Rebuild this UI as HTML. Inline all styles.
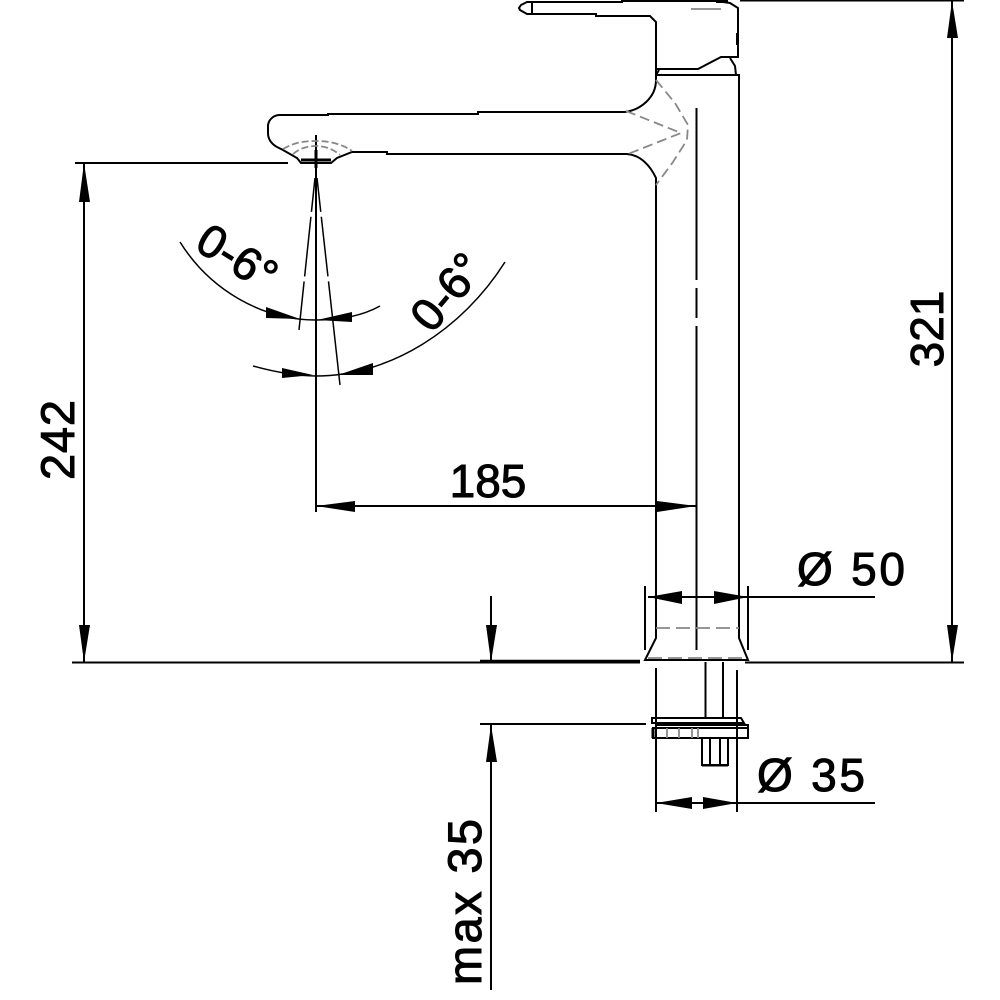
<!DOCTYPE html>
<html><head><meta charset="utf-8"><style>
html,body{margin:0;padding:0;background:#fff}
svg{display:block}
text{font-family:"Liberation Sans",sans-serif;fill:#000;stroke:#000;stroke-width:1}
</style></head><body>
<svg width="1000" height="1000" viewBox="0 0 1000 1000" xmlns="http://www.w3.org/2000/svg">
<g fill="none" stroke="#000" stroke-width="2">
<!-- handle -->
<path d="M527 2H622V1H716L730 3L738 8V57H721L698 69H656V22L650 16H596V14H527L520 10L519 8L521 5Z"/>
<path d="M532 2V14"/>
<path d="M716 1.5H728" stroke-width="3"/>
<path d="M737.500 33V45" stroke-width="3"/>
<path d="M656 69V75L659 70M730 58L735 66L736 75"/>
<!-- body -->
<path d="M656 75H739V638L748 660H645L656 638V178C650 165 640 155 627 154H387V152H352L337 158L331 163H301L297 158L283 150L277 147C270 143 268 138 268 133V125C269 119 274 115 280 115H328V114H478V112H625C640 110 656 98 656 80"/>
<path d="M656 75V80"/>
<path d="M301 160H331" stroke-width="3"/>
<!-- lower -->
<path d="M656 668V812M737 670V812M705.500 662V718M723 662V718"/>
<path d="M652 718H741L744 723H652Z"/>
<path d="M656 725H748V728H656Z"/>
<path d="M653 728H748V738H653Z"/>
<path d="M653 728V738" stroke-width="3"/>
<path d="M702 738V765H728V738M720 738V765M710 738V765M702 765.500H728"/>
<!-- center and dims -->
<path d="M316 135V512"/>
<path d="M316 150V168" stroke-width="3"/>
<path d="M696.500 108V280M696.500 288V318M696.500 326V650"/>
<path d="M72 662.500H640M745 662.500H964"/>
<path d="M480 661H640" stroke-width="2.500"/>
<path d="M75 163H288"/>
<path d="M740 .5H964"/>
<path d="M84 163V662M952 1V662"/>
<path d="M316 506H696"/>
<path d="M645 586V650M748 586V650M648 597H875"/>
<path d="M491 596V662M491 725V990M480 724H646"/>
<path d="M656 803H875"/>
</g>
<g fill="none" stroke="#000" stroke-width="1.500">
<path d="M180 242C210 290 262 320 316 320C340 320 362 316 380 306"/>
<path d="M253 366C275 372 295 376 316 376C390 376 462 330 505 262"/>
<path d="M315 178L299 330" stroke-dasharray="34 5 60 5 60 5"/>
<path d="M317 178L340 385" stroke-dasharray="34 5 60 5 110 5"/>
</g>
<!-- gray dashed -->
<g fill="none" stroke="#888" stroke-width="1.800">
<path d="M656 80L675 103L688 125L687 140L673 162L656 185" stroke-dasharray="10 5"/>
<path d="M626 111L681 133L628 154" stroke-dasharray="10 5"/>
<path d="M691 9H724" stroke-dasharray="30 6"/>
<path d="M656 628H739" stroke-dasharray="14 6"/>
<path d="M648 658H747" stroke-dasharray="14 6"/>
<path d="M283 149C295 142 305 141 316 141C330 141 342 144 352 151" stroke-dasharray="7 3"/>
<path d="M293 154C300 148 308 146 316 146C325 146 333 149 340 155" stroke-dasharray="7 3"/>
<path d="M667 728V738M679 728V738M692 728V738M698 728V738"/>
</g>
<!-- arrowheads -->
<g fill="#000" stroke="none">
<path d="M84 163L79 202H90ZM84 662L79 625H90Z"/>
<path d="M952 1L947 38H958ZM952 662L947 625H958Z"/>
<path d="M316 506L355 501V512ZM696 506L657 501V512Z"/>
<path d="M491 662L486 625H497ZM491 725L486 762H497Z"/>
<path d="M648 597L682 591V604ZM748 597L714 591V604Z"/>
<path d="M656 803L692 797V809ZM737 803L703 797V809Z"/>
<path d="M300 319L266 307V318ZM317 320L352 312V322ZM313 375L282 368V378ZM338 375L373 363V375Z"/>
</g>
<!-- text -->
<text x="488" y="497" font-size="46" text-anchor="middle">185</text>
<text x="797" y="585" font-size="46" textLength="108" lengthAdjust="spacing">Ø 50</text>
<text x="757" y="791" font-size="46" textLength="108" lengthAdjust="spacing">Ø 35</text>
<text transform="translate(74 440) rotate(-90)" font-size="47" text-anchor="middle" textLength="80">242</text>
<text transform="translate(943 329) rotate(-90)" font-size="46" text-anchor="middle">321</text>
<text transform="translate(481 902) rotate(-90)" font-size="47" text-anchor="middle" textLength="166">max 35</text>
<text transform="translate(229 271) rotate(32)" font-size="46" text-anchor="middle">0-6°</text>
<text transform="translate(459 302) rotate(-50)" font-size="46" text-anchor="middle">0-6°</text>
</svg>
</body></html>
